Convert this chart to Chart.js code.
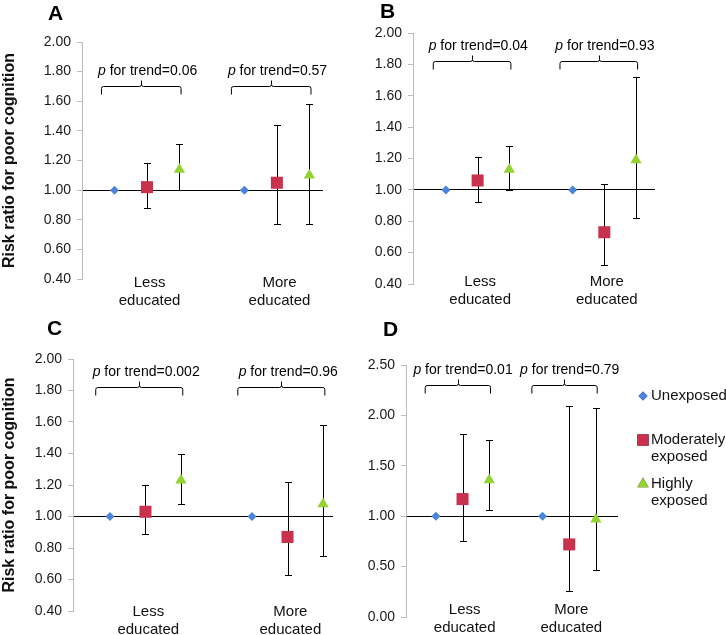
<!DOCTYPE html>
<html>
<head>
<meta charset="utf-8">
<script src="https://cdn.jsdelivr.net/npm/chart.js@4.4.0/dist/chart.umd.min.js"></script>
<style>
  body { margin: 0; background: #fff; width: 726px; height: 635px; position: relative; overflow: hidden; }
  canvas { position: absolute; }
</style>
</head>
<body>
<canvas id="panelA" width="363" height="315" style="left:0;top:0"></canvas>
<canvas id="panelB" width="363" height="315" style="left:363px;top:0"></canvas>
<canvas id="panelC" width="363" height="320" style="left:0;top:315px"></canvas>
<canvas id="panelD" width="363" height="320" style="left:363px;top:315px"></canvas>
<script>
// categories and series
const groupLabels = [['Less', 'educated'], ['More', 'educated']];
const seriesNames = ['Unexposed', 'Moderately exposed', 'Highly exposed'];
const legendLines = [['Unexposed'], ['Moderately', 'exposed'], ['Highly', 'exposed']];
const panelLetters = ['A', 'B', 'C', 'D'];

// tick labels
const yTicksABC = [0.40, 0.60, 0.80, 1.00, 1.20, 1.40, 1.60, 1.80, 2.00];
const yTicksD = [0.00, 0.50, 1.00, 1.50, 2.00, 2.50];

// risk ratios, [less educated, more educated]
const unexposedA = [1.00, 1.00];
const moderateA = [1.02, 1.05];
const moderateLowA = [0.88, 0.77];
const moderateHighA = [1.18, 1.44];
const highlyA = [1.14, 1.10];
const highlyLowA = [1.00, 0.77];
const highlyHighA = [1.31, 1.58];
const pTrendA = ['0.06', '0.57'];

const unexposedB = [1.00, 1.00];
const moderateB = [1.06, 0.73];
const moderateLowB = [0.92, 0.52];
const moderateHighB = [1.21, 1.04];
const highlyB = [1.13, 1.19];
const highlyLowB = [1.00, 0.82];
const highlyHighB = [1.28, 1.72];
const pTrendB = ['0.04', '0.93'];

const unexposedC = [1.00, 1.00];
const moderateC = [1.03, 0.87];
const moderateLowC = [0.89, 0.63];
const moderateHighC = [1.20, 1.22];
const highlyC = [1.23, 1.08];
const highlyLowC = [1.08, 0.75];
const highlyHighC = [1.40, 1.58];
const pTrendC = ['0.002', '0.96'];

const unexposedD = [1.00, 1.00];
const moderateD = [1.17, 0.72];
const moderateLowD = [0.75, 0.26];
const moderateHighD = [1.82, 2.09];
const highlyD = [1.36, 0.97];
const highlyLowD = [1.06, 0.47];
const highlyHighD = [1.76, 2.07];
const pTrendD = ['0.01', '0.79'];

const colors = ['#4a84dc', '#c8324c', '#93d332'];
const pointStyles = ['rectRot', 'rect', 'triangle'];
const pointSizes = [4.5, 8.5, 6.5];
const FONT = "'Liberation Sans', Arial, sans-serif";

// x slot of a series inside a group
function slot(group, series) {
    return group * 4 + series + 1;
}

const panels = [
    { id: 'panelA', yTicks: yTicksABC, bracketLevel: 1.70, pTrend: pTrendA,
      series: [[unexposedA], [moderateA, moderateLowA, moderateHighA], [highlyA, highlyLowA, highlyHighA]],
      area: [82, 42, 323, 279], xRange: [0, 7.42], labelDy: 4, letterAt: [48, 20], yTitle: true },
    { id: 'panelB', yTicks: yTicksABC, bracketLevel: 1.82, pTrend: pTrendB,
      series: [[unexposedB], [moderateB, moderateLowB, moderateHighB], [highlyB, highlyLowB, highlyHighB]],
      area: [50, 33, 292, 284], xRange: [-0.04, 7.6], labelDy: -2, letterAt: [17, 18] },
    { id: 'panelC', yTicks: yTicksABC, bracketLevel: 1.82, pTrend: pTrendC,
      series: [[unexposedC], [moderateC, moderateLowC, moderateHighC], [highlyC, highlyLowC, highlyHighC]],
      area: [73, 44, 333, 296], xRange: [-0.04, 7.28], labelDy: 1, letterAt: [47, 20], yTitle: true },
    { id: 'panelD', yTicks: yTicksD, bracketLevel: 2.30, pTrend: pTrendD,
      series: [[unexposedD], [moderateD, moderateLowD, moderateHighD], [highlyD, highlyLowD, highlyHighD]],
      area: [43, 50, 255, 302], xRange: [-0.12, 7.83], labelDy: -7, letterAt: [20, 21], legend: true }
];

const annotate = {
    id: 'annotate',
    beforeDatasetsDraw(chart) {
        // error bars
        const { ctx, scales: { x, y } } = chart;
        ctx.save();
        ctx.strokeStyle = '#000';
        ctx.lineWidth = 1;
        chart.data.datasets.forEach(ds => {
            if (!ds.low) return;
            ds.data.forEach((p, i) => {
                const px = Math.round(x.getPixelForValue(p.x)) + 0.5;
                const y1 = Math.round(y.getPixelForValue(ds.low[i])) + 0.5;
                const y2 = Math.round(y.getPixelForValue(ds.high[i])) + 0.5;
                ctx.beginPath();
                ctx.moveTo(px, y1); ctx.lineTo(px, y2);
                ctx.moveTo(px - 3.5, y1); ctx.lineTo(px + 3.5, y1);
                ctx.moveTo(px - 3.5, y2); ctx.lineTo(px + 3.5, y2);
                ctx.stroke();
            });
        });
        ctx.restore();
    },
    afterDraw(chart, args, opts) {
        const { ctx, chartArea, scales: { x, y } } = chart;
        ctx.save();
        ctx.fillStyle = '#000';

        // panel letter
        ctx.font = 'bold 21px ' + FONT;
        ctx.textBaseline = 'alphabetic';
        ctx.fillText(opts.letter, opts.letterAt[0], opts.letterAt[1]);

        // group labels under the axis
        ctx.font = '15px ' + FONT;
        ctx.textAlign = 'center';
        ctx.textBaseline = 'middle';
        ctx.fillStyle = '#111';
        groupLabels.forEach((lines, g) => {
            const gx = x.getPixelForValue(g * 4 + 2.08);
            lines.forEach((line, k) => ctx.fillText(line, gx, chartArea.bottom + opts.labelDy + k * 18));
        });
        ctx.textAlign = 'left';
        ctx.fillStyle = '#000';

        // p for trend brackets
        ctx.strokeStyle = '#000';
        ctx.lineWidth = 1;
        const by = Math.round(y.getPixelForValue(opts.bracketLevel)) + 0.5;
        opts.pTrend.forEach((pv, g) => {
            const x1 = x.getPixelForValue(g * 4 + 0.6);
            const x2 = x.getPixelForValue(g * 4 + 3.05);
            const xm = Math.round(x.getPixelForValue(g * 4 + 1.82)) + 0.5;
            ctx.beginPath();
            ctx.moveTo(x1, by + 8); ctx.lineTo(x1, by + 2);
            ctx.quadraticCurveTo(x1, by, x1 + 2, by);
            ctx.lineTo(xm - 2, by); ctx.quadraticCurveTo(xm, by, xm, by - 2);
            ctx.lineTo(xm, by - 6);
            ctx.moveTo(xm, by - 2); ctx.quadraticCurveTo(xm, by, xm + 2, by);
            ctx.lineTo(x2 - 2, by); ctx.quadraticCurveTo(x2, by, x2, by + 2);
            ctx.lineTo(x2, by + 8);
            ctx.stroke();

            const xt = x.getPixelForValue(g * 4 + 2.02);
            const italic = 'italic 14px ' + FONT, normal = '14px ' + FONT;
            const rest = ' for trend=' + pv;
            ctx.font = italic;
            const w1 = ctx.measureText('p').width;
            ctx.font = normal;
            const w2 = ctx.measureText(rest).width;
            const start = xt - (w1 + w2) / 2;
            ctx.textBaseline = 'middle';
            ctx.font = italic;
            ctx.fillText('p', start, by - 15);
            ctx.font = normal;
            ctx.fillText(rest, start + w1, by - 15);
        });

        // legend
        if (opts.legend) {
            const rowsTop = [81, 125, 169];
            ctx.font = '15px ' + FONT;
            ctx.textBaseline = 'middle';
            chart.data.datasets.forEach((ds, i) => {
                Chart.helpers.drawPoint(ctx, {
                    pointStyle: ds.pointStyle, radius: ds.legendRadius, rotation: 0, borderWidth: 0
                }, 280, rowsTop[i]);
                ctx.fillStyle = colors[i];
                ctx.fill();
                ctx.fillStyle = '#111';
                legendLines[i].forEach((line, k) => ctx.fillText(line, 288, rowsTop[i] + k * 17));
            });
        }
        ctx.restore();
    }
};

panels.forEach((p, pi) => {
    const [left, top, right, bottom] = p.area;
    const canvas = document.getElementById(p.id);
    const datasets = p.series.map((s, si) => ({
        label: seriesNames[si],
        data: s[0].map((v, g) => ({ x: slot(g, si), y: v })),
        low: s[1],
        high: s[2],
        pointStyle: pointStyles[si],
        pointRadius: pointSizes[si],
        legendRadius: [4.5, 8, 6.5][si],
        pointBackgroundColor: colors[si],
        pointBorderWidth: 0,
        showLine: false
    }));

    new Chart(canvas.getContext('2d'), {
        type: 'scatter',
        data: { datasets },
        options: {
            responsive: false,
            animation: false,
            events: [],
            layout: { padding: { left: 0, top: top, right: canvas.width - right, bottom: 0 } },
            plugins: {
                legend: { display: false },
                tooltip: { enabled: false },
                annotate: {
                    letter: panelLetters[pi], letterAt: p.letterAt, bracketLevel: p.bracketLevel,
                    pTrend: p.pTrend, legend: !!p.legend, labelDy: p.labelDy
                }
            },
            scales: {
                x: {
                    type: 'linear',
                    min: p.xRange[0],
                    max: p.xRange[1],
                    grid: { display: false, drawTicks: false },
                    border: { display: false },
                    ticks: { display: false },
                    afterFit: s => { s.height = canvas.height - bottom; }
                },
                y: {
                    min: p.yTicks[0],
                    max: p.yTicks[p.yTicks.length - 1],
                    afterBuildTicks: s => { s.ticks = p.yTicks.map(v => ({ value: v })); },
                    afterFit: s => { s.width = left; },
                    border: { display: true, color: '#bdbdbd', width: 1 },
                    grid: {
                        drawTicks: true,
                        tickLength: 5,
                        tickColor: '#bdbdbd',
                        color: c => (c.tick && Math.abs(c.tick.value - 1) < 1e-6) ? '#000' : 'rgba(0,0,0,0)'
                    },
                    ticks: {
                        padding: 6,
                        color: '#1a1a1a',
                        font: { family: FONT, size: 14 },
                        callback: v => v.toFixed(2)
                    },
                    title: {
                        display: !!p.yTitle,
                        text: 'Risk ratio for poor cognition',
                        color: '#111',
                        padding: 0,
                        font: { family: FONT, size: 16, weight: 'bold' }
                    }
                }
            }
        },
        plugins: [annotate]
    });
});
</script>
</body>
</html>
